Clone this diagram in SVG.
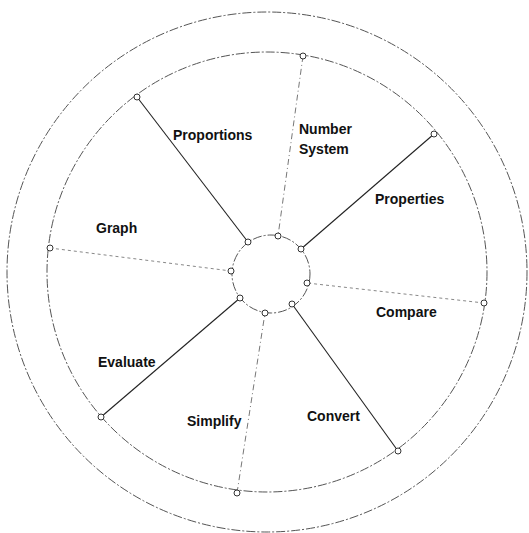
<svg xmlns="http://www.w3.org/2000/svg" width="529" height="533" viewBox="0 0 529 533">
<style>
.ring{fill:none;stroke:#555;stroke-width:1;stroke-dasharray:9 2 2 2}
.solid{stroke:#222;stroke-width:1.1;fill:none}
.dash{stroke:#777;stroke-width:1;stroke-dasharray:6 3 1 3;fill:none}
.dot{stroke:#888;stroke-width:1;stroke-dasharray:3 3;fill:none}
.pt{fill:#fff;stroke:#333;stroke-width:1}
text{font-family:"Liberation Sans",Arial,sans-serif;font-size:14px;font-weight:bold;fill:#111}
</style>
<rect width="529" height="533" fill="#fff"/>
<g id="rings">
<circle class="ring" cx="267" cy="272" r="260"/>
<circle class="ring" cx="267" cy="272" r="220"/>
<circle class="ring" cx="271" cy="274" r="39"/>
</g>
<g id="connectors">
<line class="solid" x1="137" y1="97" x2="248" y2="242"/>
<line class="dash" x1="303" y1="56" x2="278" y2="236"/>
<line class="solid" x1="434" y1="134" x2="301" y2="249"/>
<line class="dot" x1="484" y1="303" x2="307" y2="283"/>
<line class="solid" x1="398" y1="451" x2="292" y2="304"/>
<line class="dash" x1="237" y1="493" x2="265" y2="313"/>
<line class="solid" x1="101" y1="417" x2="240" y2="298"/>
<line class="dot" x1="50" y1="248" x2="231" y2="271"/>
</g>
<g id="proportions"><circle class="pt" cx="137" cy="97" r="3"/><circle class="pt" cx="248" cy="242" r="3"/><text x="173" y="140">Proportions</text></g>
<g id="number-system"><circle class="pt" cx="303" cy="56" r="3"/><circle class="pt" cx="278" cy="236" r="3"/><text x="299" y="134">Number</text><text x="299" y="154">System</text></g>
<g id="properties"><circle class="pt" cx="434" cy="134" r="3"/><circle class="pt" cx="301" cy="249" r="3"/><text x="375" y="204">Properties</text></g>
<g id="compare"><circle class="pt" cx="484" cy="303" r="3"/><circle class="pt" cx="307" cy="283" r="3"/><text x="376" y="317">Compare</text></g>
<g id="convert"><circle class="pt" cx="398" cy="451" r="3"/><circle class="pt" cx="292" cy="304" r="3"/><text x="307" y="421">Convert</text></g>
<g id="simplify"><circle class="pt" cx="237" cy="493" r="3"/><circle class="pt" cx="265" cy="313" r="3"/><text x="187" y="426">Simplify</text></g>
<g id="evaluate"><circle class="pt" cx="101" cy="417" r="3"/><circle class="pt" cx="240" cy="298" r="3"/><text x="98" y="367">Evaluate</text></g>
<g id="graph"><circle class="pt" cx="50" cy="248" r="3"/><circle class="pt" cx="231" cy="271" r="3"/><text x="96" y="233">Graph</text></g>
</svg>
